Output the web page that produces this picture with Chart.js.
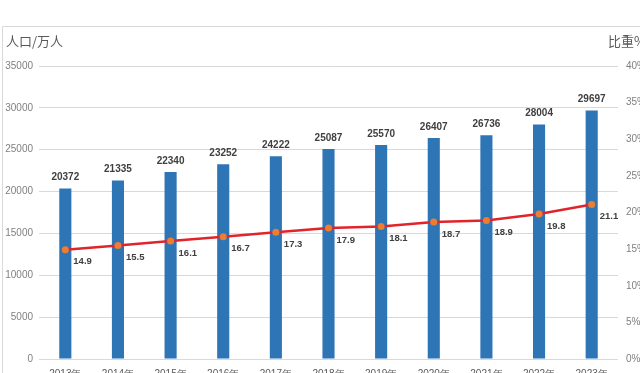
<!DOCTYPE html>
<html>
<head>
<meta charset="utf-8">
<script src="https://cdn.jsdelivr.net/npm/chart.js@4"></script>
<style>
  html, body { margin: 0; padding: 0; background: #fff; overflow: hidden; }
  canvas { display: block; }
</style>
</head>
<body>
<canvas id="chart" width="640" height="380"></canvas>
<script>
const years = ['2013年', '2014年', '2015年', '2016年', '2017年', '2018年', '2019年', '2020年', '2021年', '2022年', '2023年'];
const population = [20372, 21335, 22340, 23252, 24222, 25087, 25570, 26407, 26736, 28004, 29697];
const share = [14.9, 15.5, 16.1, 16.7, 17.3, 17.9, 18.1, 18.7, 18.9, 19.8, 21.1];

const tickFont = { family: 'Liberation Sans', size: 10 };
const labelFont = 'bold 10px "Liberation Sans"';

// frame and axis titles
const framePlugin = {
    id: 'frame',
    beforeDraw(chart) {
        const ctx = chart.ctx;
        ctx.save();
        ctx.strokeStyle = '#d9d9d9';
        ctx.lineWidth = 1;
        ctx.beginPath();
        ctx.moveTo(2.5, 400);
        ctx.lineTo(2.5, 26.5);
        ctx.lineTo(640, 26.5);
        ctx.stroke();
        ctx.fillStyle = '#595959';
        ctx.font = '13px "Noto Sans CJK SC"';
        ctx.textBaseline = 'middle';
        ctx.textAlign = 'left';
        ctx.fillText('人口/万人', 6, 41);
        ctx.fillText('比重%', 608, 41);
        ctx.restore();
    }
};

// value labels on bars and points
const valueLabels = {
    id: 'valueLabels',
    afterDatasetsDraw(chart) {
        const ctx = chart.ctx;
        ctx.save();
        ctx.fillStyle = '#404040';
        ctx.font = labelFont;
        ctx.textBaseline = 'middle';
        const bars = chart.getDatasetMeta(1).data;
        ctx.textAlign = 'center';
        bars.forEach((bar, i) => {
            ctx.fillText(population[i], bar.x, bar.y - 11);
        });
        const pts = chart.getDatasetMeta(0).data;
        ctx.font = 'bold 9.5px "Liberation Sans"';
        ctx.textAlign = 'left';
        pts.forEach((p, i) => {
            ctx.fillText(share[i].toFixed(1), p.x + 8, p.y + 12);
        });
        ctx.restore();
    }
};

const config = {
    type: 'bar',
    data: {
        labels: years,
        datasets: [{
            type: 'line',
            label: '比重',
            data: share,
            yAxisID: 'y1',
            borderColor: '#e0242b',
            borderWidth: 2.5,
            pointBackgroundColor: '#ed7d31',
            pointBorderWidth: 0,
            pointRadius: 3.5,
            tension: 0,
            order: 1
        }, {
            label: '人口',
            data: population,
            yAxisID: 'y',
            backgroundColor: '#2e75b6',
            barPercentage: 0.23,
            categoryPercentage: 1,
            order: 2
        }]
    },
    options: {
        responsive: false,
        animation: false,
        layout: { padding: { top: 66, left: 0, right: 0, bottom: 0 } },
        plugins: {
            legend: { display: false },
            tooltip: { enabled: false }
        },
        scales: {
            x: {
                grid: { display: false, drawTicks: false },
                border: { display: false },
                ticks: { color: '#595959', font: tickFont, padding: 9, maxRotation: 0 },
                afterFit(scale) { scale.height = 21; }
            },
            y: {
                position: 'left',
                min: 0,
                max: 35000,
                ticks: { stepSize: 5000, color: '#7f7f7f', font: tickFont, padding: 6, callback: v => String(v) },
                grid: { color: '#d9d9d9', drawTicks: false },
                border: { display: false },
                afterFit(scale) { scale.width = 39; }
            },
            y1: {
                position: 'right',
                min: 0,
                max: 40,
                ticks: { stepSize: 5, color: '#7f7f7f', font: tickFont, padding: 8, callback: v => v + '%' },
                grid: { display: false, drawTicks: false },
                border: { display: false },
                afterFit(scale) { scale.width = 22; }
            }
        }
    },
    plugins: [framePlugin, valueLabels]
};

const canvasElement = document.getElementById('chart');
const chart = new Chart(canvasElement, config);
</script>
</body>
</html>
